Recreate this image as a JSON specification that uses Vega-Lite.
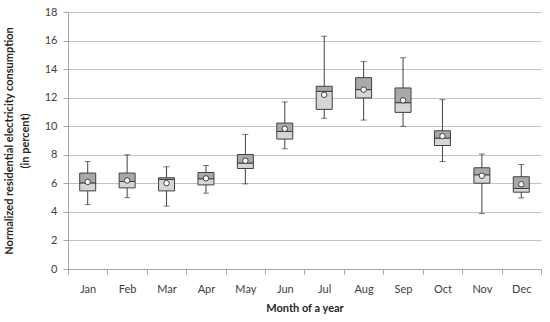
{
  "$schema": "https://vega.github.io/schema/vega-lite/v6.json",
  "width": 473,
  "height": 257,
  "autosize": "none",
  "padding": {"left": 68, "top": 12, "right": 9, "bottom": 53},
  "background": "white",
  "config": {
    "view": {"stroke": null},
    "font": "Lato",
    "axis": {"labelFont": "Lato", "titleFont": "Lato", "labelColor": "#404040", "titleColor": "#262626", "labelFontSize": 11, "titleFontSize": 11, "titleFontWeight": "bold", "domainColor": "#a6a6a6", "tickColor": "#a6a6a6", "gridColor": "#c4c4c4", "tickSize": 5}
  },
  "data": {
    "values": [
      {"month": "Jan", "min": 4.51, "q1": 5.47, "median": 6.03, "q3": 6.72, "max": 7.53, "mean": 6.1},
      {"month": "Feb", "min": 5.0, "q1": 5.68, "median": 6.13, "q3": 6.72, "max": 8.0, "mean": 6.2},
      {"month": "Mar", "min": 4.4, "q1": 5.47, "median": 6.27, "q3": 6.39, "max": 7.16, "mean": 6.01},
      {"month": "Apr", "min": 5.31, "q1": 5.89, "median": 6.32, "q3": 6.76, "max": 7.25, "mean": 6.35},
      {"month": "May", "min": 5.96, "q1": 7.04, "median": 7.42, "q3": 8.02, "max": 9.43, "mean": 7.58},
      {"month": "Jun", "min": 8.42, "q1": 9.1, "median": 9.63, "q3": 10.22, "max": 11.7, "mean": 9.82},
      {"month": "Jul", "min": 10.55, "q1": 11.18, "median": 12.44, "q3": 12.8, "max": 16.3, "mean": 12.2},
      {"month": "Aug", "min": 10.43, "q1": 11.98, "median": 12.56, "q3": 13.4, "max": 14.53, "mean": 12.56},
      {"month": "Sep", "min": 9.99, "q1": 10.97, "median": 11.65, "q3": 12.68, "max": 14.8, "mean": 11.81},
      {"month": "Oct", "min": 7.53, "q1": 8.65, "median": 9.17, "q3": 9.68, "max": 11.86, "mean": 9.3},
      {"month": "Nov", "min": 3.88, "q1": 6.01, "median": 6.6, "q3": 7.09, "max": 8.05, "mean": 6.53},
      {"month": "Dec", "min": 4.98, "q1": 5.38, "median": 5.64, "q3": 6.46, "max": 7.32, "mean": 5.94}
    ]
  },
  "encoding": {
    "x": {
      "field": "month", "type": "nominal", "sort": null,
      "scale": {"paddingInner": 0, "paddingOuter": 0},
      "axis": {"title": "Month of a year", "labelAngle": 0, "tickBand": "extent", "labelPadding": 9, "titlePadding": 8, "grid": false, "domainColor": "#a6a6a6"}
    }
  },
  "layer": [
    {
      "mark": {"type": "rule", "color": "#404040", "strokeWidth": 1},
      "encoding": {
        "y": {"field": "min", "type": "quantitative", "scale": {"domain": [0, 18]},
          "axis": {"title": ["Normalized residential electricity consumption", "(in percent)"], "values": [0, 2, 4, 6, 8, 10, 12, 14, 16, 18], "labelOverlap": false, "titlePadding": 14, "labelPadding": 6, "titleLineHeight": 16}},
        "y2": {"field": "max"}
      }
    },
    {
      "mark": {"type": "tick", "color": "#404040", "size": 6, "thickness": 1},
      "encoding": {"y": {"field": "min", "type": "quantitative", "axis": {"title": ["Normalized residential electricity consumption", "(in percent)"], "values": [0, 2, 4, 6, 8, 10, 12, 14, 16, 18], "labelOverlap": false, "titlePadding": 14, "labelPadding": 6, "titleLineHeight": 16}}}
    },
    {
      "mark": {"type": "tick", "color": "#404040", "size": 6, "thickness": 1},
      "encoding": {"y": {"field": "max", "type": "quantitative", "axis": {"title": ["Normalized residential electricity consumption", "(in percent)"], "values": [0, 2, 4, 6, 8, 10, 12, 14, 16, 18], "labelOverlap": false, "titlePadding": 14, "labelPadding": 6, "titleLineHeight": 16}}}
    },
    {
      "mark": {"type": "bar", "size": 16, "fill": "#d6d6d6", "stroke": "#404040", "strokeWidth": 1},
      "encoding": {"y": {"field": "q1", "type": "quantitative", "axis": {"title": ["Normalized residential electricity consumption", "(in percent)"], "values": [0, 2, 4, 6, 8, 10, 12, 14, 16, 18], "labelOverlap": false, "titlePadding": 14, "labelPadding": 6, "titleLineHeight": 16}}, "y2": {"field": "median"}}
    },
    {
      "mark": {"type": "bar", "size": 16, "fill": "#a9a9a9", "stroke": "#404040", "strokeWidth": 1},
      "encoding": {"y": {"field": "median", "type": "quantitative", "axis": {"title": ["Normalized residential electricity consumption", "(in percent)"], "values": [0, 2, 4, 6, 8, 10, 12, 14, 16, 18], "labelOverlap": false, "titlePadding": 14, "labelPadding": 6, "titleLineHeight": 16}}, "y2": {"field": "q3"}}
    },
    {
      "mark": {"type": "point", "shape": "circle", "filled": true, "fill": "white", "stroke": "#404040", "strokeWidth": 1, "size": 30, "opacity": 1},
      "encoding": {"y": {"field": "mean", "type": "quantitative", "axis": {"title": ["Normalized residential electricity consumption", "(in percent)"], "values": [0, 2, 4, 6, 8, 10, 12, 14, 16, 18], "labelOverlap": false, "titlePadding": 14, "labelPadding": 6, "titleLineHeight": 16}}}
    }
  ]
}
